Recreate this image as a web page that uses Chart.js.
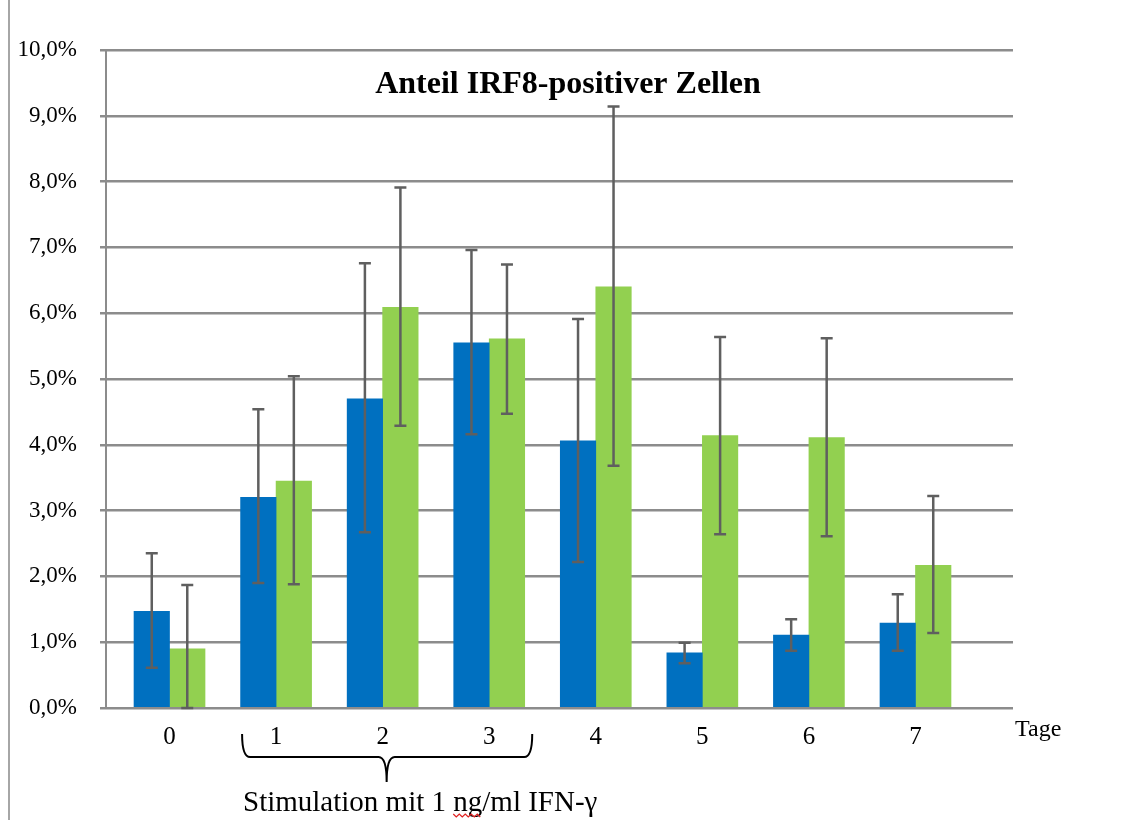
<!DOCTYPE html>
<html>
<head>
<meta charset="utf-8">
<script src="https://cdn.jsdelivr.net/npm/chart.js@4.4.1/dist/chart.umd.min.js"></script>
<style>
  html, body { margin: 0; padding: 0; background: #fff; }
  #wrap { position: relative; width: 1137px; height: 820px; }
</style>
</head>
<body>
<div id="wrap"><canvas id="irf8Chart" width="1137" height="820"></canvas></div>
<script>
// Tage (x categories)
const categories = ['0', '1', '2', '3', '4', '5', '6', '7'];

// blue series (percent)
const blueValues = [1.47, 3.20, 4.70, 5.55, 4.06, 0.84, 1.11, 1.29];
const blueLow    = [0.61, 1.90, 2.67, 4.16, 2.22, 0.68, 0.87, 0.87];
const blueHigh   = [2.35, 4.54, 6.76, 6.96, 5.91, 0.99, 1.35, 1.73];

// green series (percent)
const greenValues = [0.90, 3.45, 6.09, 5.61, 6.40, 4.14, 4.11, 2.17];
const greenLow    = [0.00, 1.88, 4.29, 4.47, 3.68, 2.64, 2.61, 1.14];
const greenHigh   = [1.87, 5.04, 7.91, 6.74, 9.14, 5.64, 5.62, 3.22];

const yTicks = [0, 1, 2, 3, 4, 5, 6, 7, 8, 9, 10];

const serif = "'Liberation Serif', 'Times New Roman', serif";
Chart.defaults.font.family = serif;
Chart.defaults.color = '#000';

// error bars from the low/high arrays
const errorBars = {
    id: 'errorBars',
    afterDatasetsDraw(chart) {
        const ctx = chart.ctx;
        const y = chart.scales.y;
        const lows = [blueLow, greenLow];
        const highs = [blueHigh, greenHigh];
        ctx.save();
        ctx.strokeStyle = '#5f5f5f';
        ctx.lineWidth = 2.5;
        chart.data.datasets.forEach((ds, d) => {
            chart.getDatasetMeta(d).data.forEach((bar, i) => {
                const top = y.getPixelForValue(highs[d][i]);
                const bot = y.getPixelForValue(lows[d][i]);
                ctx.beginPath();
                ctx.moveTo(bar.x, top); ctx.lineTo(bar.x, bot);
                ctx.moveTo(bar.x - 6, top); ctx.lineTo(bar.x + 6, top);
                ctx.moveTo(bar.x - 6, bot); ctx.lineTo(bar.x + 6, bot);
                ctx.stroke();
            });
        });
        ctx.restore();
    }
};

// title, axis name, brace and the stimulation note
const annotations = {
    id: 'annotations',
    afterDraw(chart) {
        const ctx = chart.ctx;
        const area = chart.chartArea;
        const x = chart.scales.x;
        ctx.save();

        // page border on the left
        ctx.strokeStyle = '#a6a6a6';
        ctx.lineWidth = 2;
        ctx.beginPath();
        ctx.moveTo(9, 0); ctx.lineTo(9, chart.height);
        ctx.stroke();

        ctx.fillStyle = '#000';
        ctx.textAlign = 'center';
        ctx.textBaseline = 'middle';
        ctx.font = 'bold 32px ' + serif;
        ctx.fillText('Anteil IRF8-positiver Zellen', 568, 85);

        ctx.textAlign = 'left';
        ctx.font = '24px ' + serif;
        ctx.fillText('Tage', area.right + 2, 730);

        // brace under days 1-3
        const bl = x.getPixelForValue(1) - 34;
        const br = x.getPixelForValue(3) + 43;
        const bm = x.getPixelForValue(2) + 4;
        ctx.strokeStyle = '#000';
        ctx.lineWidth = 2;
        ctx.beginPath();
        ctx.moveTo(bl, 734);
        ctx.quadraticCurveTo(bl, 757, bl + 8, 757);
        ctx.lineTo(bm - 8, 757);
        ctx.quadraticCurveTo(bm, 757, bm, 782);
        ctx.quadraticCurveTo(bm, 757, bm + 8, 757);
        ctx.lineTo(br - 8, 757);
        ctx.quadraticCurveTo(br, 757, br, 734);
        ctx.stroke();

        ctx.font = '29px ' + serif;
        ctx.textBaseline = 'alphabetic';
        const note = 'Stimulation mit 1 ng/ml IFN-\u03b3';
        ctx.fillText(note, 243, 811);

        // spell-check squiggle under "ng"
        const pre = ctx.measureText('Stimulation mit 1 ').width;
        const ng = ctx.measureText('ng').width;
        ctx.strokeStyle = '#e02020';
        ctx.lineWidth = 1.2;
        ctx.beginPath();
        for (let i = 0, sx = 243 + pre; sx + i * 3 <= 243 + pre + ng; i++) {
            const px = sx + i * 3;
            const py = i % 2 === 0 ? 814 : 817;
            if (i === 0) ctx.moveTo(px, py); else ctx.lineTo(px, py);
        }
        ctx.stroke();

        ctx.restore();
    }
};

const ctx = document.getElementById('irf8Chart').getContext('2d');
new Chart(ctx, {
    type: 'bar',
    data: {
        datasets: [
            {
                label: 'blau',
                data: blueValues.map((v, i) => ({ x: i, y: v })),
                backgroundColor: '#0070c0',
                barThickness: 35.5
            },
            {
                label: 'grün',
                data: greenValues.map((v, i) => ({ x: i, y: v })),
                backgroundColor: '#92d050',
                barThickness: 35.5
            }
        ]
    },
    options: {
        responsive: false,
        animation: false,
        layout: { padding: { top: 50, right: 124, bottom: 0, left: 0 } },
        plugins: { legend: { display: false }, tooltip: { enabled: false } },
        scales: {
            x: {
                type: 'linear',
                offset: false,
                min: -0.596,
                max: 7.915,
                grid: { display: false, drawTicks: false, offset: false },
                border: { display: false },
                afterBuildTicks: scale => { scale.ticks = categories.map((c, i) => ({ value: i })); },
                afterFit: scale => { scale.height = 112; },
                ticks: {
                    padding: 14,
                    font: { size: 25 },
                    callback: v => categories[v]
                }
            },
            y: {
                min: 0,
                max: 10,
                afterBuildTicks: scale => { scale.ticks = yTicks.map(v => ({ value: v })); },
                afterFit: scale => { scale.width = 106; },
                grid: { color: '#8c8c8c', lineWidth: 2.5, tickLength: 6 },
                border: { color: '#8c8c8c', width: 2 },
                ticks: {
                    padding: 23,
                    font: { size: 23 },
                    callback: v => v.toFixed(1).replace('.', ',') + '%'
                }
            }
        }
    },
    plugins: [errorBars, annotations]
});
</script>
</body>
</html>
